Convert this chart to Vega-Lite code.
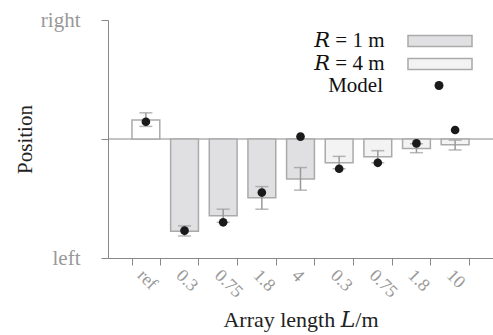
{
  "$schema": "https://vega.github.io/schema/vega-lite/v6.json",
  "width": 385,
  "height": 238,
  "autosize": {"type": "none"},
  "padding": {"left": 108, "top": 20, "right": 0, "bottom": 77},
  "background": "white",
  "config": {
    "font": "Liberation Serif, DejaVu Serif",
    "view": {"stroke": null},
    "axis": {"grid": false}
  },
  "data": {
    "values": [
      {"key": "ref", "group": "ref", "val": 0.16, "lo": 0.106, "hi": 0.22, "model": 0.145},
      {"key": "1|0.3", "group": "R1", "val": -0.776, "lo": -0.815, "hi": -0.73, "model": -0.77},
      {"key": "1|0.75", "group": "R1", "val": -0.645, "lo": -0.70, "hi": -0.59, "model": -0.70},
      {"key": "1|1.8", "group": "R1", "val": -0.493, "lo": -0.59, "hi": -0.40, "model": -0.45},
      {"key": "1|4", "group": "R1", "val": -0.336, "lo": -0.43, "hi": -0.24, "model": 0.02},
      {"key": "4|0.3", "group": "R4", "val": -0.20, "lo": -0.25, "hi": -0.146, "model": -0.25},
      {"key": "4|0.75", "group": "R4", "val": -0.149, "lo": -0.20, "hi": -0.098, "model": -0.20},
      {"key": "4|1.8", "group": "R4", "val": -0.079, "lo": -0.115, "hi": -0.04, "model": -0.037},
      {"key": "4|10", "group": "R4", "val": -0.048, "lo": -0.092, "hi": -0.01, "model": 0.076}
    ]
  },
  "layer": [
    {
      "data": {"values": [{"z": 0}]},
      "mark": {"type": "rule", "color": "#888888", "strokeWidth": 1},
      "encoding": {
        "y": {"field": "z", "type": "quantitative", "title": "Position", "scale": {"domain": [-1, 1], "nice": false}}
      }
    },
    {
      "mark": {"type": "bar", "stroke": "#aaaaaa", "strokeWidth": 1.5},
      "encoding": {
        "x": {
          "field": "key", "type": "nominal", "sort": null,
          "scale": {"paddingInner": 0.28, "paddingOuter": 0.62},
          "axis": {
            "title": "Array length 𝐿/m",
            "titleFontSize": 22, "titleFontWeight": "normal", "titleColor": "#222222", "titlePadding": 8,
            "labelExpr": "indexof(datum.label, '|') >= 0 ? substring(datum.label, indexof(datum.label, '|') + 1) : datum.label",
            "labelAngle": 45, "labelFontSize": 18, "labelColor": "#999999", "labelPadding": 1,
            "tickBand": "extent", "tickSize": 7, "tickColor": "#888888", "domainColor": "#888888"
          }
        },
        "y": {
          "field": "val", "type": "quantitative", "title": "Position",
          "scale": {"domain": [-1, 1], "nice": false},
          "axis": {
            "values": [-1, 0, 1],
            "labelExpr": "datum.value == 1 ? 'right' : datum.value == -1 ? 'left' : ''",
            "labelFontSize": 21, "labelColor": "#999999", "labelPadding": 21,
            "tickSize": 7, "tickColor": "#888888", "domainColor": "#888888",
            "titleFontSize": 21, "titleFontWeight": "normal", "titleColor": "#222222", "titlePadding": 5
          }
        },
        "y2": {"datum": 0},
        "fill": {
          "field": "group", "type": "nominal",
          "scale": {"domain": ["R1", "R4", "ref"], "range": ["#e0e0e2", "#f3f3f3", "#ffffff"]},
          "legend": {
            "values": ["R1", "R4"],
            "title": null,
            "orient": "none",
            "legendX": 321.5,
            "legendY": 10.5,
            "padding": 0,
            "labelExpr": "datum.label == 'R1' ? '𝑅 = 1 m' : '𝑅 = 4 m'",
            "labelFontSize": 21,
            "labelColor": "#111111",
            "labelAlign": "right",
            "labelOffset": -66,
            "symbolType": "M-5.82,-1H5.82V1H-5.82Z",
            "symbolSize": 121,
            "symbolStrokeColor": "#aaaaaa",
            "symbolStrokeWidth": 1.5,
            "rowPadding": 1
          }
        }
      }
    },
    {
      "mark": {"type": "rule", "color": "#999999", "strokeWidth": 1.5},
      "encoding": {
        "x": {"field": "key", "type": "nominal", "sort": null},
        "y": {"field": "lo", "type": "quantitative", "title": "Position"},
        "y2": {"field": "hi"}
      }
    },
    {
      "mark": {"type": "tick", "color": "#999999", "thickness": 1.5, "size": 13, "orient": "horizontal"},
      "encoding": {
        "x": {"field": "key", "type": "nominal", "sort": null},
        "y": {"field": "lo", "type": "quantitative", "title": "Position"}
      }
    },
    {
      "mark": {"type": "tick", "color": "#999999", "thickness": 1.5, "size": 13, "orient": "horizontal"},
      "encoding": {
        "x": {"field": "key", "type": "nominal", "sort": null},
        "y": {"field": "hi", "type": "quantitative", "title": "Position"}
      }
    },
    {
      "mark": {"type": "point", "filled": true, "size": 75, "opacity": 1, "fill": "#1a1a1a", "stroke": null},
      "encoding": {
        "x": {"field": "key", "type": "nominal", "sort": null},
        "y": {"field": "model", "type": "quantitative", "title": "Position"},
        "shape": {
          "datum": "Model",
          "scale": {"range": ["circle"]},
          "legend": {
            "title": null,
            "orient": "none",
            "legendX": 320.5,
            "legendY": 55,
            "padding": 0,
            "labelFontSize": 21,
            "labelColor": "#111111",
            "labelAlign": "right",
            "labelOffset": -66.5,
            "symbolSize": 80,
            "symbolFillColor": "#1a1a1a",
            "symbolStrokeWidth": 0
          }
        }
      }
    }
  ]
}
